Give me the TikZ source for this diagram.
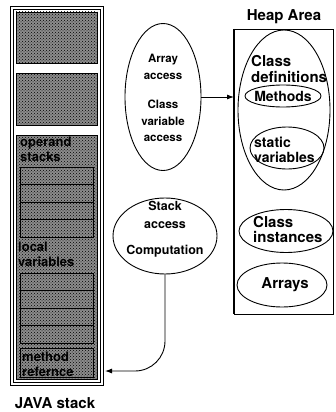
\documentclass[tikz,border=0pt]{standalone}
\usepackage{fontspec}
\setmainfont{TeX Gyre Heros}
\usetikzlibrary{shapes.geometric,patterns,arrows.meta}

\begin{document}
\begin{tikzpicture}[x=1pt, y=-1pt,
    slbl/.style={font=\bfseries\fontsize{13}{14.5}\selectfont, align=left, inner sep=0pt},
    albl/.style={font=\bfseries\fontsize{11.5}{16.5}\selectfont, align=center, inner sep=0pt},
    hlbl/.style={font=\bfseries\fontsize{15}{15.5}\selectfont, align=left, inner sep=0pt},
    oval/.style={draw, ellipse, line width=0.9pt, inner sep=0pt},
    shadebox/.style={draw, fill=black!45, postaction={pattern=crosshatch dots}}]
    \useasboundingbox (0,0) rectangle (335,412);

    % JAVA stack
    \node[draw, anchor=north west, minimum width=93, minimum height=379, inner sep=0pt] (jstack) at (10,6) {};
    \draw (13,9) rectangle (100,382);
    \draw[shadebox] (16,12) rectangle (97,63);
    \draw[shadebox] (16,73) rectangle (97,125);
    \draw[shadebox] (16,135) rectangle (97,379);
    \foreach \y in {167, 273} {
        \foreach \i in {0, 1, 2, 3}
            \draw (20,\y+17.5*\i) rectangle (93,\y+17.5*\i+17.5);
    }
    \draw (20,348) rectangle (93,377);
    \node[slbl, anchor=base west] (opst) at (20,161) {operand\\stacks};
    \node[slbl, anchor=base west] (locv) at (18,266) {local\\variables};
    \node[slbl, anchor=base west] (mtdr) at (22,376) {method\\refernce};
    \node[hlbl, anchor=center] (jlbl) at (55,403) {JAVA stack};

    % access ellipses
    \node[oval, minimum width=76, minimum height=147] (arracc) at (163,97) {};
    \node[albl] at (163,98) {Array\\access\\[13pt]Class\\variable\\access};
    \node[oval, minimum width=104, minimum height=76] (stkacc) at (165,236) {};
    \node[albl, font=\bfseries\fontsize{12.5}{18}\selectfont] at (165,229) {Stack\\access\\[8pt]Computation};

    % Heap area
    \node[hlbl, anchor=center] (hlbl) at (284,17) {Heap Area};
    \node[draw, anchor=north west, minimum width=99, minimum height=285, inner sep=0pt] (heap) at (234,29) {};
    \draw[line width=1.4pt] (heap.north west) -- (heap.south west);
    \node[oval, minimum width=92, minimum height=160] (cdef) at (284,110) {};
    \node[hlbl, anchor=base west] at (251,82) {Class\\definitions};
    \node[oval, minimum width=76, minimum height=22] (meth) at (283,96) {};
    \node[hlbl, font=\bfseries\fontsize{14}{15}\selectfont] at (meth) {Methods};
    \node[oval, minimum width=74, minimum height=42] (stat) at (287,148) {};
    \node[hlbl, font=\bfseries\fontsize{14}{15}\selectfont, anchor=base west] at (254,162) {static\\variables};
    \node[oval, minimum width=94, minimum height=43] (cins) at (286,231) {};
    \node[hlbl, font=\bfseries\fontsize{15}{15}\selectfont, anchor=base west] at (253,242) {Class\\instances};
    \node[oval, minimum width=90, minimum height=44] (arrs) at (282,285) {};
    \node[hlbl] at (285,285) {Arrays};

    % connectors
    \coordinate (mref) at (105,371);
    \draw[-{Latex[length=7pt, width=5pt]}, line width=0.9pt] (arracc.east) -- (heap.west |- arracc.east);
    \draw[-{Latex[length=7pt, width=5pt]}, line width=0.9pt, rounded corners=30pt] (stkacc.south) |- (mref);
\end{tikzpicture}
\end{document}
